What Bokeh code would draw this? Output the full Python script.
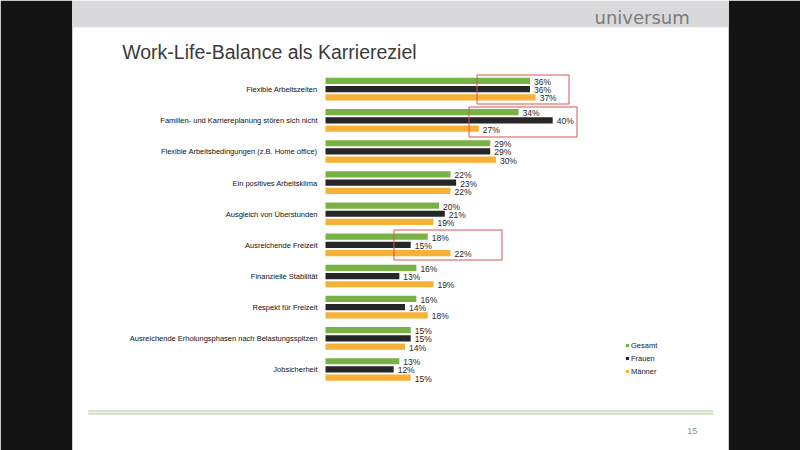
from bokeh.plotting import figure
from bokeh.models import Range1d, ColumnDataSource, BoxAnnotation, Label, Legend, LegendItem
from bokeh.transform import dodge
from bokeh.core.properties import value
from bokeh.embed import file_html
from bokeh.resources import INLINE

# --- survey data (share of respondents, %) ---
categories = [
    "Flexible Arbeitszeiten",
    "Familien- und Karriereplanung stören sich nicht",
    "Flexible Arbeitsbedingungen (z.B. Home office)",
    "Ein positives Arbeitsklima",
    "Ausgleich von Überstunden",
    "Ausreichende Freizeit",
    "Finanzielle Stabilität",
    "Respekt für Freizeit",
    "Ausreichende Erholungsphasen nach Belastungsspitzen",
    "Jobsicherheit",
]
gesamt = [36, 34, 29, 22, 20, 18, 16, 16, 15, 13]
frauen = [36, 40, 29, 23, 21, 15, 13, 14, 15, 12]
maenner = [37, 27, 30, 22, 19, 22, 19, 18, 14, 15]

series_names = ["Gesamt", "Frauen", "Männer"]
series_colors = ["#78b244", "#262626", "#f7b136"]

# --- page geometry ---
W, H = 800, 450
X0 = 325.0          # pixel column of the 0 % baseline
PX_PER_PCT = 5.68   # bar length per percentage point
ROW0 = 88.7         # pixel row of the first category
ROW_PITCH = 31.14   # distance between categories
FONT = "Liberation Sans"

p = figure(
    width=W, height=H, output_backend="svg", toolbar_location=None,
    title=None, x_axis_type=None, y_axis_type=None,
    x_range=Range1d(-X0 / PX_PER_PCT, (W - X0) / PX_PER_PCT),
    y_range=Range1d((H - ROW0) / ROW_PITCH, -ROW0 / ROW_PITCH),
    min_border=0, background_fill_color="white", border_fill_color="white",
    outline_line_color=None,
)

pct = lambda vals: [f"{v}%" for v in vals]
src = ColumnDataSource(dict(
    idx=list(range(len(categories))), cat=categories,
    g=gesamt, f=frauen, m=maenner,
    g_lbl=pct(gesamt), f_lbl=pct(frauen), m_lbl=pct(maenner),
))

# --- bars and value labels ---
offsets = [-0.264, 0.0, 0.264]
renderers = []
for key, color, off in zip(["g", "f", "m"], series_colors, offsets):
    ypos = dodge("idx", off, range=p.y_range)
    r = p.hbar(y=ypos, left=0, right=key, height=0.2, source=src,
               fill_color=color, line_color=None)
    renderers.append(r)
    p.text(x=key, y=ypos, text=key + "_lbl", source=src,
           x_offset=4, y_offset=1, text_align="left", text_baseline="middle",
           text_font=value(FONT), text_font_size="8.5px", text_color="#262626")

# category names, right-aligned left of the baseline
p.text(x=0, y="idx", text="cat", source=src, x_offset=-8, y_offset=0.5,
       text_align="right", text_baseline="middle",
       text_font=value(FONT), text_font_size="7.5px", text_color="#111111")

# --- legend ---
legend = Legend(
    items=[LegendItem(label=n, renderers=[r]) for n, r in zip(series_names, renderers)],
    location=(625, 73.7), orientation="vertical",
    glyph_width=4, glyph_height=4, label_standoff=2, label_height=10, label_width=20,
    spacing=3, padding=0, margin=0, border_line_color=None, background_fill_alpha=0,
    label_text_font=FONT, label_text_font_size="7.5px", label_text_color="#1a1a1a",
)
p.add_layout(legend)

# --- slide frame: dark margins, header band, footer rule ---
def sbox(x0, x1, y_top, y_bot, color=None, outline=None):
    return BoxAnnotation(left=x0, right=x1, top=H - y_top, bottom=H - y_bot,
                         left_units="screen", right_units="screen",
                         top_units="screen", bottom_units="screen",
                         fill_color=color, fill_alpha=1,
                         line_color=outline, line_alpha=1, line_width=1)

p.add_layout(sbox(0, 71.7, 0, H, "#141414"))
p.add_layout(sbox(728.3, W, 0, H, "#141414"))
p.add_layout(sbox(71.7, 728.3, 0, 26.7, "#d9d9db"))
p.add_layout(sbox(87.7, 712.7, 409.6, 414.4, "#f0f6ea"))
p.add_layout(sbox(87.7, 712.7, 410.0, 411.3, "#c6ddae"))
p.add_layout(sbox(87.7, 712.7, 412.7, 414.0, "#c6ddae"))

# red highlight frames around selected rows
for x0, x1, y0, y1 in [(476.5, 568.5, 74.5, 103.5),
                       (468.5, 576.5, 106.5, 136.5),
                       (393.5, 501.5, 229.5, 259.5)]:
    p.add_layout(sbox(x0, x1, y0, y1, None, "#d9534f"))

p.add_layout(Label(x=121.7, y=H - 51.7, x_units="screen", y_units="screen",
                   text="Work-Life-Balance als Karriereziel", text_font=FONT,
                   text_font_size="19.5px", text_color="#3a3a3a",
                   text_baseline="alphabetic"))
p.add_layout(Label(x=594, y=H - 17.3, x_units="screen", y_units="screen",
                   text="universum", text_font="DejaVu Sans",
                   text_font_size="18px", text_color="#7b7b7b",
                   text_baseline="alphabetic"))
p.add_layout(Label(x=686.7, y=H - 430.3, x_units="screen", y_units="screen",
                   text="15", text_font=FONT, text_font_size="9px",
                   text_color="#8c8c8c", text_baseline="alphabetic"))

open("out.html", "w").write(file_html(p, INLINE))
